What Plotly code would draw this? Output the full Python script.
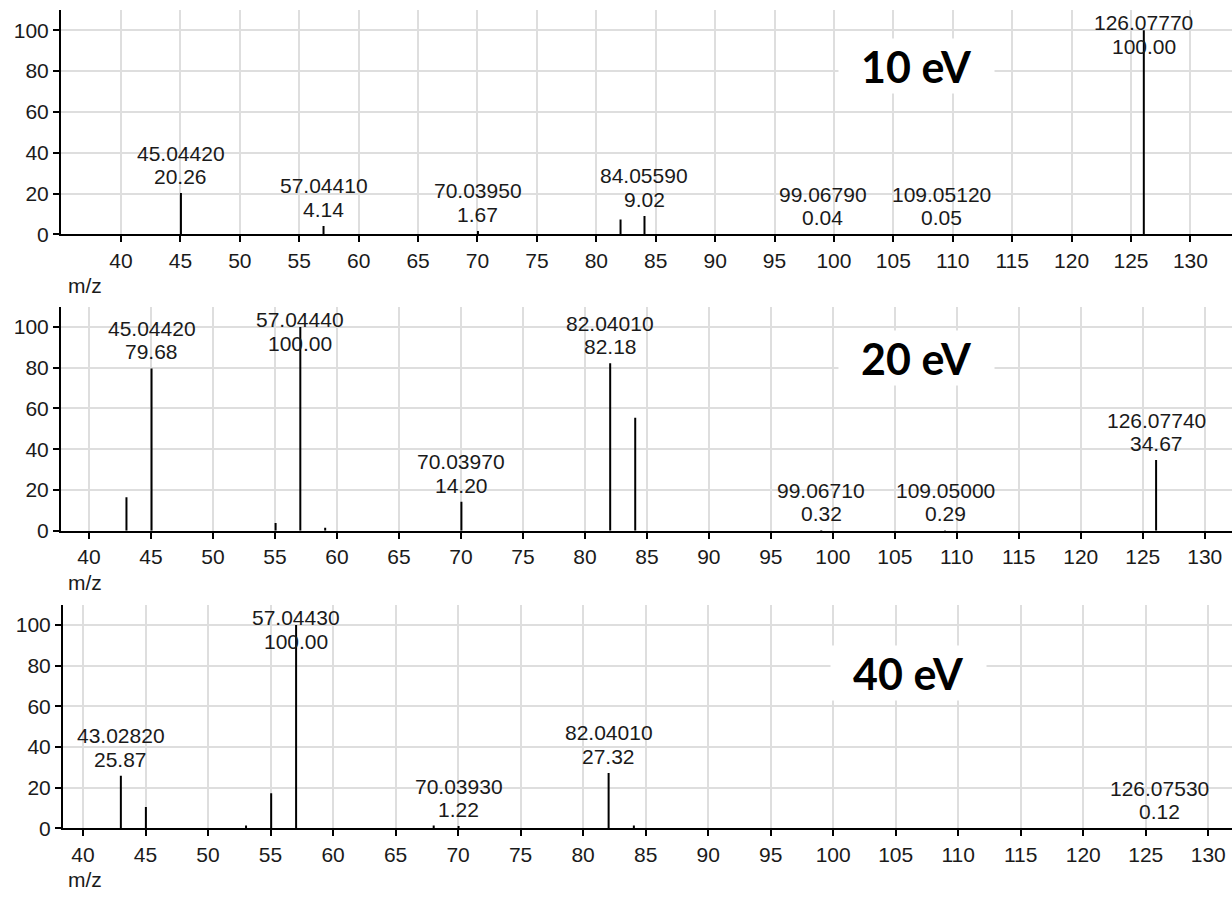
import plotly.graph_objects as go

W, H = 1232, 903

# ---------------- data ----------------
# 10 eV
e10_label_mz = [45.04420, 57.04410, 70.03950, 84.05590, 99.06790, 109.05120, 126.07770]
e10_label_int = [20.26, 4.14, 1.67, 9.02, 0.04, 0.05, 100.00]
e10_minor_mz = [82.04]
e10_minor_int = [7.3]

# 20 eV
e20_label_mz = [45.04420, 57.04440, 70.03970, 82.04010, 99.06710, 109.05000, 126.07740]
e20_label_int = [79.68, 100.00, 14.20, 82.18, 0.32, 0.29, 34.67]
e20_minor_mz = [43.02, 55.05, 59.05, 84.06]
e20_minor_int = [16.5, 3.8, 1.5, 55.5]

# 40 eV
e40_label_mz = [43.02820, 57.04430, 70.03930, 82.04010, 126.07530]
e40_label_int = [25.87, 100.00, 1.22, 27.32, 0.12]
e40_minor_mz = [45.03, 53.04, 55.05, 68.05, 84.06]
e40_minor_int = [10.5, 1.5, 17.3, 1.5, 1.5]

panel_names = ["10 eV", "20 eV", "40 eV"]
y_ticks = [0, 20, 40, 60, 80, 100]
x_ticks = list(range(40, 131, 5))
x_label = "m/z"

# ---------------- layout geometry (pixels) ----------------
panels = [
    dict(left=61, top=10.0, bottom=237.3, xr=[34.95, 133.5], name_xy=(917, 67), mz_y=289),
    dict(left=61, top=310.4, bottom=537.3, xr=[37.74, 132.2], name_xy=(916, 362), mz_y=590),
    dict(left=63, top=612.1, bottom=838.7, xr=[38.4, 131.9], name_xy=(908, 681), mz_y=890),
]
datasets = [
    (e10_label_mz, e10_label_int, e10_minor_mz, e10_minor_int),
    (e20_label_mz, e20_label_int, e20_minor_mz, e20_minor_int),
    (e40_label_mz, e40_label_int, e40_minor_mz, e40_minor_int),
]

FONT = "Liberation Sans, Arial, sans-serif"
TXT = "#1a1a1a"
FS = 21
LABEL_CAP = 84  # labels of tall peaks are kept inside the plot

fig = go.Figure()
annotations = []
layout = {}

for i, (p, d) in enumerate(zip(panels, datasets)):
    n = "" if i == 0 else str(i + 1)
    xa, ya = "x" + n, "y" + n
    lmz, lint, mmz, mint = d
    all_mz = list(lmz) + list(mmz)
    all_int = list(lint) + list(mint)
    xs, ys = [], []
    for m, v in zip(all_mz, all_int):
        xs += [m, m, None]
        ys += [0, v, None]
    fig.add_trace(go.Scatter(x=xs, y=ys, mode="lines", xaxis=xa, yaxis=ya,
                             line=dict(color="black", width=2), showlegend=False,
                             hoverinfo="skip"))

    for m, v in zip(lmz, lint):
        yy = min(v, LABEL_CAP)
        annotations.append(dict(x=m, y=yy, xref=xa, yref=ya, text=f"{v:.2f}",
                                showarrow=False, yanchor="bottom", xanchor="center",
                                yshift=3, font=dict(family=FONT, size=FS, color=TXT)))
        annotations.append(dict(x=m, y=yy, xref=xa, yref=ya, text=f"{m:.5f}",
                                showarrow=False, yanchor="bottom", xanchor="center",
                                yshift=26.5, font=dict(family=FONT, size=FS, color=TXT)))

    nx, ny = p["name_xy"]
    annotations.append(dict(x=nx / W, y=1 - ny / H, xref="paper", yref="paper",
                            text=f"<b>{panel_names[i]}</b>", showarrow=False,
                            xanchor="center", yanchor="middle", bgcolor="white",
                            width=155, height=54, borderpad=0,
                            font=dict(family="Lato, Open Sans, sans-serif", size=43, color="black")))
    annotations.append(dict(x=66 / W, y=1 - p["mz_y"] / H, xref="paper", yref="paper",
                            text=x_label, showarrow=False, xanchor="left", yanchor="middle",
                            font=dict(family=FONT, size=FS, color=TXT)))

    axis_common = dict(showline=True, linecolor="black", linewidth=2, ticks="outside",
                       tickcolor="black", tickwidth=2, ticklen=6,
                       showgrid=True, gridcolor="#dedede", gridwidth=1.5, zeroline=False,
                       tickfont=dict(family=FONT, size=FS, color=TXT))
    layout["xaxis" + n] = dict(axis_common, domain=[p["left"] / W, 1.0], range=p["xr"],
                               tickmode="array", tickvals=x_ticks, anchor=ya)
    layout["yaxis" + n] = dict(axis_common, domain=[1 - p["bottom"] / H, 1 - p["top"] / H],
                               range=[0, 110], tickmode="array", tickvals=y_ticks, anchor=xa)

fig.update_layout(width=W, height=H, margin=dict(l=0, r=0, t=0, b=0),
                  paper_bgcolor="white", plot_bgcolor="white",
                  annotations=annotations, **layout)

fig.write_html("out.html")
